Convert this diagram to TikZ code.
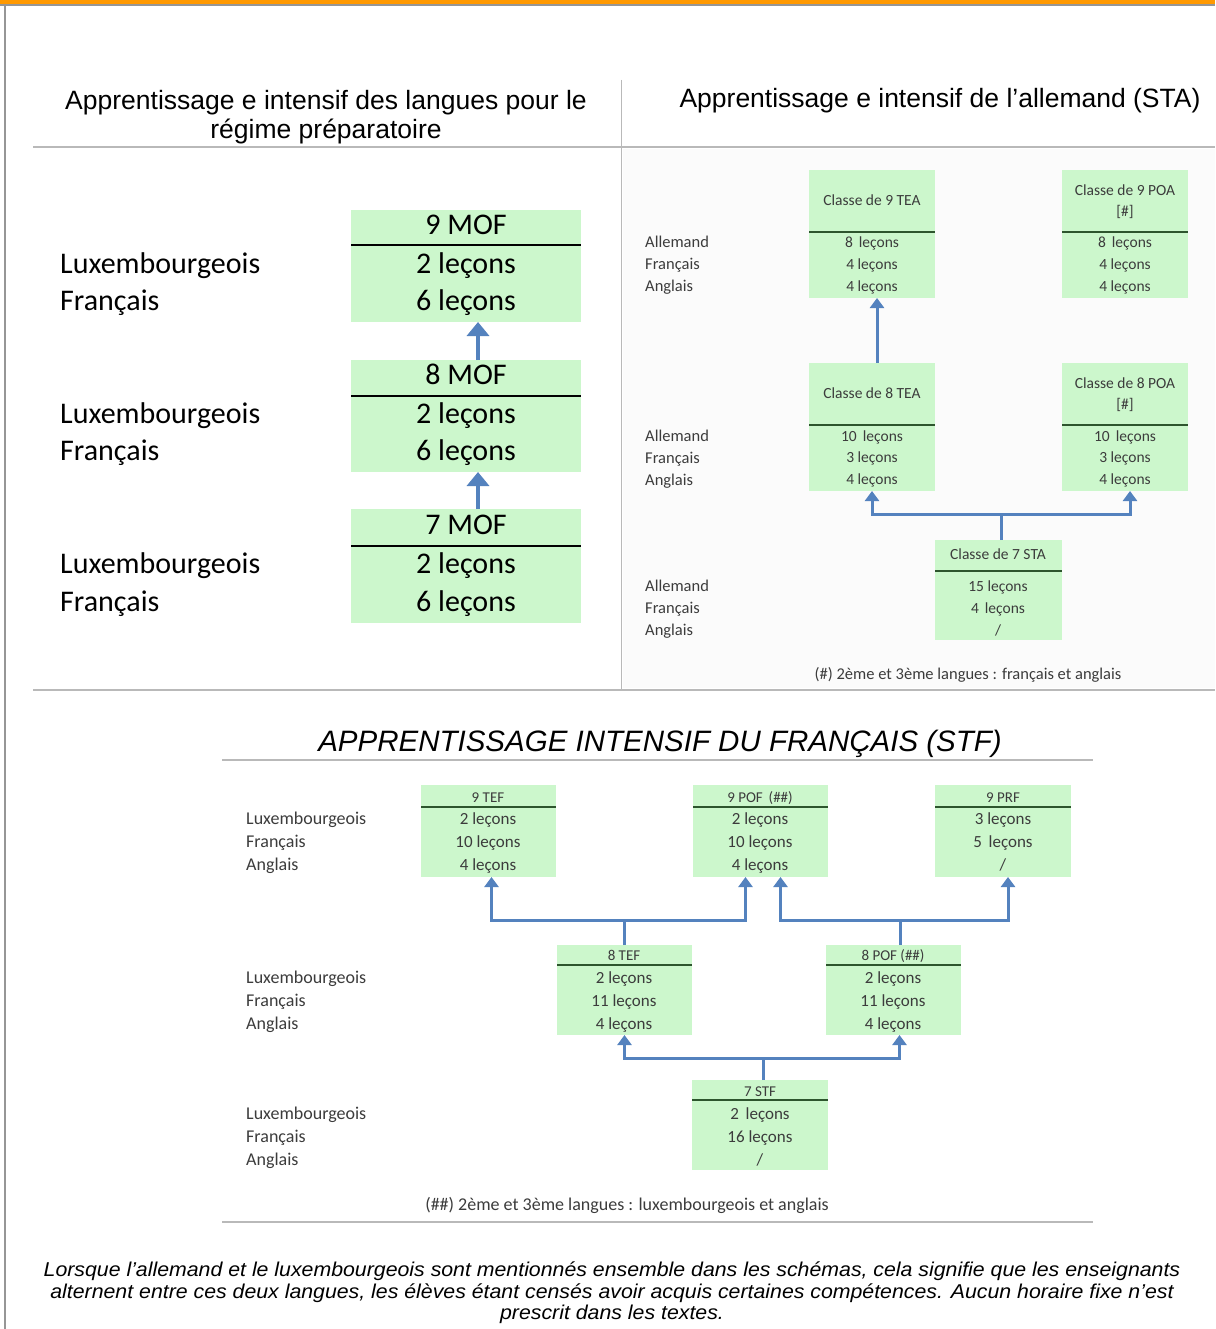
\documentclass[tikz,border=0pt]{standalone}
\usepackage{fontspec}
\setmainfont{Liberation Sans}
\newfontfamily\calibfont{Carlito}
\usetikzlibrary{arrows.meta,calc}
\definecolor{orangebar}{RGB}{255,153,0}
\definecolor{framegray}{RGB}{150,150,150}
\definecolor{rulegray}{RGB}{185,185,185}
\definecolor{boxgreen}{RGB}{204,247,204}
\definecolor{arrowblue}{RGB}{84,130,190}
\definecolor{darkline}{RGB}{45,85,45}
\definecolor{inktext}{RGB}{60,60,60}
\definecolor{panelbg}{RGB}{251,251,251}
\begin{document}
\begin{tikzpicture}[x=1pt,y=-1pt,
  box/.style={fill=boxgreen,draw=none,inner sep=0pt,outer sep=0pt,anchor=north west},
  lbig/.style={font=\calibfont\fontsize{30}{32}\selectfont,inner sep=0pt,text=black,anchor=mid,yshift=-6pt},
  lsmall/.style={font=\calibfont\fontsize{15.5}{18}\selectfont,inner sep=0pt,text=inktext,anchor=mid,yshift=-3pt},
  llab/.style={lsmall,font=\calibfont\fontsize{16.5}{18}\selectfont,anchor=mid west},
  lmid/.style={font=\calibfont\fontsize{17}{19}\selectfont,inner sep=0pt,text=inktext,anchor=mid,yshift=-4pt},
  flab/.style={lmid,font=\calibfont\fontsize{18}{20}\selectfont,anchor=mid west},
  fhead/.style={lmid,font=\calibfont\fontsize{15}{17}\selectfont},
  headtxt/.style={font=\fontsize{26.5}{29}\selectfont,inner sep=0pt,align=center,yshift=-3pt},
  remark/.style={font=\fontsize{20}{23}\selectfont\itshape,inner sep=0pt,anchor=mid,xscale=1.065},
  sepblack/.style={draw=black,line width=2pt},
  sepgreen/.style={draw=darkline,line width=2pt},
  arrL/.style={draw=arrowblue,line width=4.5pt,-{Triangle[width=22pt,length=14pt]}},
  arrR/.style={draw=arrowblue,line width=3pt,-{Triangle[width=14pt,length=10pt]}},
  lineR/.style={draw=arrowblue,line width=3pt},
]
\useasboundingbox (0,0) rectangle (1215,1329);
\fill[white] (0,0) rectangle (1215,1329);
% page frame
\fill[orangebar] (0,0) rectangle (1215,4);
\fill[framegray] (0,4) rectangle (1215,6);
\fill[framegray] (4,4) rectangle (6,1329);

% headings of the two upper columns
\node[headtxt] (hL) at (326,114) {Apprentissage e intensif des langues pour le\\régime préparatoire};
\node[headtxt] (hR) at (940,98) {Apprentissage e intensif de l’allemand (STA)};
\fill[panelbg] (623,149) rectangle (1215,688);
\draw[rulegray,line width=1pt] (621,80) -- (621,690);
\draw[rulegray,line width=2pt] (33,147) -- (1215,147);
\draw[rulegray,line width=2pt] (33,690) -- (1215,690);

% ---------- preparatory regime (MOF) ----------
\node[lbig,anchor=mid west] (la9) at (60,265) {Luxembourgeois};
\node[lbig,anchor=mid west] (lb9) at (60,302) {Français};
\node[lbig,anchor=mid west] (la8) at (60,415) {Luxembourgeois};
\node[lbig,anchor=mid west] (lb8) at (60,452) {Français};
\node[lbig,anchor=mid west] (la7) at (60,565) {Luxembourgeois};
\node[lbig,anchor=mid west] (lb7) at (60,603) {Français};

\node[box,minimum width=230,minimum height=112] (m9) at (351,210) {};
\node[box,minimum width=230,minimum height=112] (m8) at (351,360) {};
\node[box,minimum width=230,minimum height=114] (m7) at (351,509) {};
\draw[sepblack] (m9.north west) ++(0,35) -- ++(230,0);
\draw[sepblack] (m8.north west) ++(0,36) -- ++(230,0);
\draw[sepblack] (m7.north west) ++(0,37) -- ++(230,0);
\node[lbig] (m9h) at (466,226) {9 MOF};
\node[lbig] (m9a) at (466,265) {2 leçons};
\node[lbig] (m9b) at (466,302) {6 leçons};
\node[lbig] (m8h) at (466,376) {8 MOF};
\node[lbig] (m8a) at (466,415) {2 leçons};
\node[lbig] (m8b) at (466,452) {6 leçons};
\node[lbig] (m7h) at (466,526) {7 MOF};
\node[lbig] (m7a) at (466,565) {2 leçons};
\node[lbig] (m7b) at (466,603) {6 leçons};
\draw[arrL] ([xshift=12]m8.north) -- ([xshift=12]m9.south);
\draw[arrL] ([xshift=12]m7.north) -- ([xshift=12]m8.south);

% ---------- intensive German (STA) ----------
\foreach \yy/\tag in {242/9,436/8,586/7}{
  \node[llab] (ra\tag) at (645,\yy) {Allemand};
  \node[llab] (rb\tag) at (645,\yy+22) {Français};
  \node[llab] (rc\tag) at (645,\yy+44) {Anglais};
}
\node[box,minimum width=126,minimum height=128] (tea9) at (809,170) {};
\node[box,minimum width=126,minimum height=128] (poa9) at (1062,170) {};
\node[box,minimum width=126,minimum height=128] (tea8) at (809,363) {};
\node[box,minimum width=126,minimum height=128] (poa8) at (1062,363) {};
\node[box,minimum width=127,minimum height=100] (sta7) at (935,540) {};
\draw[sepgreen] (tea9.north west) ++(0,62) -- ++(126,0);
\draw[sepgreen] (poa9.north west) ++(0,62) -- ++(126,0);
\draw[sepgreen] (tea8.north west) ++(0,62) -- ++(126,0);
\draw[sepgreen] (poa8.north west) ++(0,62) -- ++(126,0);
\draw[sepgreen] (sta7.north west) ++(0,31) -- ++(127,0);

\node[lsmall] (tea9h) at (872,200) {Classe de 9 TEA};
\node[lsmall] (tea9a) at (872,242) {8\, leçons};
\node[lsmall] (tea9b) at (872,264) {4 leçons};
\node[lsmall] (tea9c) at (872,286) {4 leçons};
\node[lsmall] (poa9h) at (1125,190) {Classe de 9 POA};
\node[lsmall] (poa9m) at (1125,211) {[\#]};
\node[lsmall] (poa9a) at (1125,242) {8\, leçons};
\node[lsmall] (poa9b) at (1125,264) {4 leçons};
\node[lsmall] (poa9c) at (1125,286) {4 leçons};
\node[lsmall] (tea8h) at (872,393) {Classe de 8 TEA};
\node[lsmall] (tea8a) at (872,436) {10\, leçons};
\node[lsmall] (tea8b) at (872,457) {3 leçons};
\node[lsmall] (tea8c) at (872,479) {4 leçons};
\node[lsmall] (poa8h) at (1125,383) {Classe de 8 POA};
\node[lsmall] (poa8m) at (1125,404) {[\#]};
\node[lsmall] (poa8a) at (1125,436) {10\, leçons};
\node[lsmall] (poa8b) at (1125,457) {3 leçons};
\node[lsmall] (poa8c) at (1125,479) {4 leçons};
\node[lsmall] (sta7h) at (998,554) {Classe de 7 STA};
\node[lsmall] (sta7a) at (998,586) {15 leçons};
\node[lsmall] (sta7b) at (998,608) {4\, leçons};
\node[lsmall] (sta7c) at (998,630) {/};
\node[lsmall,font=\calibfont\fontsize{16.5}{18}\selectfont] (noteA) at (968,674) {(\#) 2ème et 3ème langues : français et anglais};

\draw[arrR] ([xshift=5]tea8.north) -- ([xshift=5]tea9.south);
\draw[lineR] ([xshift=3]sta7.north) -- ++(0,-26) coordinate (jS);
\draw[arrR] (jS) -| (tea8.south);
\draw[arrR] (jS) -| ([xshift=5]poa8.south);

% ---------- intensive French (STF) ----------
\node[font=\fontsize{29.5}{32}\selectfont\itshape,inner sep=0pt,yshift=-2pt] (stf) at (660,742) {APPRENTISSAGE INTENSIF DU FRANÇAIS (STF)};
\draw[rulegray,line width=2pt] (222,760) -- (1093,760);
\draw[rulegray,line width=2pt] (222,1222) -- (1093,1222);

\foreach \yy/\tag in {818/9,977/8,1113/7}{
  \node[flab] (fa\tag) at (246,\yy) {Luxembourgeois};
  \node[flab] (fb\tag) at (246,\yy+23) {Français};
  \node[flab] (fc\tag) at (246,\yy+46) {Anglais};
}
\node[box,minimum width=135,minimum height=92] (tef9) at (421,785) {};
\node[box,minimum width=135,minimum height=92] (pof9) at (693,785) {};
\node[box,minimum width=136,minimum height=92] (prf9) at (935,785) {};
\node[box,minimum width=135,minimum height=90] (tef8) at (557,945) {};
\node[box,minimum width=135,minimum height=90] (pof8) at (826,945) {};
\node[box,minimum width=136,minimum height=90] (stf7) at (692,1080) {};
\draw[sepgreen] (tef9.north west) ++(0,22) -- ++(135,0);
\draw[sepgreen] (pof9.north west) ++(0,22) -- ++(135,0);
\draw[sepgreen] (prf9.north west) ++(0,22) -- ++(136,0);
\draw[sepgreen] (tef8.north west) ++(0,20) -- ++(135,0);
\draw[sepgreen] (pof8.north west) ++(0,20) -- ++(135,0);
\draw[sepgreen] (stf7.north west) ++(0,20) -- ++(136,0);

\node[fhead] (tef9h) at (488,796) {9 TEF};
\node[lmid] (tef9a) at (488,818) {2 leçons};
\node[lmid] (tef9b) at (488,841) {10 leçons};
\node[lmid] (tef9c) at (488,864) {4 leçons};
\node[fhead] (pof9h) at (760,796) {9 POF\, (\#\#)};
\node[lmid] (pof9a) at (760,818) {2 leçons};
\node[lmid] (pof9b) at (760,841) {10 leçons};
\node[lmid] (pof9c) at (760,864) {4 leçons};
\node[fhead] (prf9h) at (1003,796) {9 PRF};
\node[lmid] (prf9a) at (1003,818) {3 leçons};
\node[lmid] (prf9b) at (1003,841) {5\, leçons};
\node[lmid] (prf9c) at (1003,864) {/};
\node[fhead] (tef8h) at (624,954) {8 TEF};
\node[lmid] (tef8a) at (624,977) {2 leçons};
\node[lmid] (tef8b) at (624,1000) {11 leçons};
\node[lmid] (tef8c) at (624,1023) {4 leçons};
\node[fhead] (pof8h) at (893,954) {8 POF (\#\#)};
\node[lmid] (pof8a) at (893,977) {2 leçons};
\node[lmid] (pof8b) at (893,1000) {11 leçons};
\node[lmid] (pof8c) at (893,1023) {4 leçons};
\node[fhead] (stf7h) at (760,1090) {7 STF};
\node[lmid] (stf7a) at (760,1113) {2\, leçons};
\node[lmid] (stf7b) at (760,1136) {16 leçons};
\node[lmid] (stf7c) at (760,1159) {/};
\node[lmid,font=\calibfont\fontsize{18}{20}\selectfont] (noteB) at (627,1204) {(\#\#) 2ème et 3ème langues : luxembourgeois et anglais};

\draw[lineR] (tef8.north) -- ++(0,-25) coordinate (jA);
\draw[arrR] (jA) -| ([xshift=3]tef9.south);
\draw[arrR] (jA) -| ([xshift=-15]pof9.south);
\draw[lineR] ([xshift=6.5]pof8.north) -- ++(0,-25) coordinate (jB);
\draw[arrR] (jB) -| ([xshift=20]pof9.south);
\draw[arrR] (jB) -| ([xshift=5]prf9.south);
\draw[lineR] ([xshift=3]stf7.north) -- ++(0,-22) coordinate (jC);
\draw[arrR] (jC) -| (tef8.south);
\draw[arrR] (jC) -| ([xshift=6]pof8.south);

% ---------- closing remark ----------
\node[remark] (rem1) at (612,1274) {Lorsque l’allemand et le luxembourgeois sont mentionnés ensemble dans les schémas, cela signifie que les enseignants};
\node[remark] (rem2) at (612,1296) {alternent entre ces deux langues, les élèves étant censés avoir acquis certaines compétences. Aucun horaire fixe n’est};
\node[remark] (rem3) at (612,1317) {prescrit dans les textes.};
\end{tikzpicture}
\end{document}
